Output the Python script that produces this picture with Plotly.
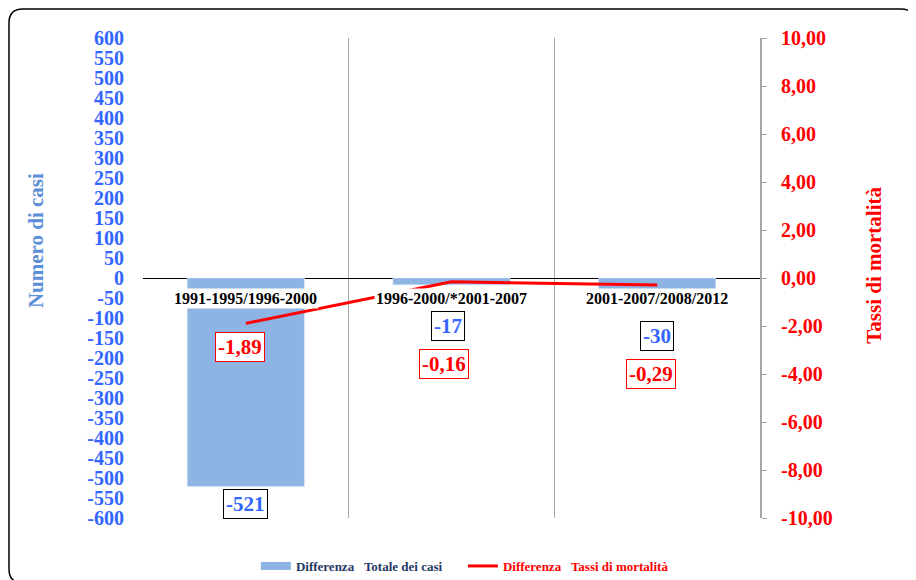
import plotly.graph_objects as go

# Dati
periodi = ["1991-1995/1996-2000", "1996-2000/*2001-2007", "2001-2007/2008/2012"]
diff_casi = [-521, -17, -30]
diff_tassi = [-1.89, -0.16, -0.29]

# tacche degli assi
tick_casi = list(range(-600, 601, 50))
tick_tassi = list(range(-10, 11, 2))
label_casi = [str(v) for v in tick_casi]
label_tassi = [f"{v:.2f}".replace(".", ",") for v in tick_tassi]

# spostamenti delle etichette dati (pixel)
shift_casi = [(0, -18), (-4, -41), (0, -46)]
shift_tassi = [(-6, -24), (-8, -82), (-6, -89)]

FONT = "Liberation Serif, Times New Roman, serif"
BLU = "#3366FF"
BLU_TITOLO = "#5B8FD8"
ROSSO = "#FF0000"
BARRA = "#8EB4E3"

x_pos = list(range(len(periodi)))

fig = go.Figure()

fig.add_trace(go.Bar(
    x=x_pos, y=diff_casi,
    marker=dict(color=BARRA),
    width=0.57,
    yaxis="y",
    showlegend=False,
))

# voce di legenda per le barre (simbolo rettangolare largo)
fig.add_trace(go.Scatter(
    x=[None], y=[None], mode="lines",
    name="<b><span style='color:#1F3864'>Differenza\u00a0\u00a0\u00a0Totale dei casi</span></b>",
    line=dict(color=BARRA, width=8),
))

fig.add_trace(go.Scatter(
    x=x_pos, y=diff_tassi,
    mode="lines",
    name="<b><span style='color:#FF0000'>Differenza\u00a0\u00a0\u00a0Tassi di mortalità</span></b>",
    line=dict(color=ROSSO, width=3),
    yaxis="y2",
))

annotations = []
# etichette categorie sulla linea dello zero
for i, p in enumerate(periodi):
    annotations.append(dict(
        x=i, y=0, xref="x", yref="y", text=f"<b>{p}</b>",
        showarrow=False, yshift=-20, bgcolor="white", borderpad=1,
        font=dict(family=FONT, size=16, color="black"),
    ))

for i, v in enumerate(diff_casi):
    dx, dy = shift_casi[i]
    annotations.append(dict(
        x=i, y=v, xref="x", yref="y", text=f"<b>{v}</b>",
        showarrow=False, xshift=dx, yshift=dy, bgcolor="white",
        bordercolor="black", borderwidth=1, borderpad=2,
        font=dict(family=FONT, size=21, color=BLU),
    ))

for i, v in enumerate(diff_tassi):
    dx, dy = shift_tassi[i]
    annotations.append(dict(
        x=i, y=v, xref="x", yref="y2", text="<b>" + f"{v:.2f}".replace(".", ",") + "</b>",
        showarrow=False, xshift=dx, yshift=dy, bgcolor="white",
        bordercolor=ROSSO, borderwidth=1, borderpad=2,
        font=dict(family=FONT, size=21, color=ROSSO),
    ))

# titoli degli assi
annotations.append(dict(
    x=-0.196, y=0.577, xref="paper", yref="paper", text="<b>Numero di casi</b>",
    textangle=-90, showarrow=False,
    font=dict(family=FONT, size=21, color=BLU_TITOLO),
))
annotations.append(dict(
    x=1.207, y=0.527, xref="paper", yref="paper", text="<b>Tassi di mortalità</b>",
    textangle=-90, showarrow=False,
    font=dict(family=FONT, size=21, color=ROSSO),
))

# cornice arrotondata attorno al grafico (coordinate paper)
bx0, bx1, by0, by1 = -0.2172, 1.2512, -0.1354, 1.0604
rx, ry = 14 / 617, 14 / 480
cornice = (f"M {bx0 + rx},{by1} L {bx1 - rx},{by1} Q {bx1},{by1} {bx1},{by1 - ry} "
           f"L {bx1},{by0 + ry} Q {bx1},{by0} {bx1 - rx},{by0} "
           f"L {bx0 + rx},{by0} Q {bx0},{by0} {bx0},{by0 + ry} "
           f"L {bx0},{by1 - ry} Q {bx0},{by1} {bx0 + rx},{by1} Z")

fig.update_layout(
    width=908, height=572,
    margin=dict(l=135, r=156, t=30, b=62, autoexpand=False),
    plot_bgcolor="white", paper_bgcolor="white",
    font=dict(family=FONT),
    showlegend=True,
    legend=dict(orientation="h", x=0.183, xanchor="left", y=-0.1, yanchor="middle",
                font=dict(family=FONT, size=13, color="black"),
                entrywidth=162, entrywidthmode="pixels", itemwidth=30),
    annotations=annotations,
    xaxis=dict(
        range=[-0.5, 2.5], tickvals=[-0.5, 0.5, 1.5, 2.5], showticklabels=False,
        showgrid=True, gridcolor="#A6A6A6", gridwidth=1, zeroline=False,
        showline=False, ticks="",
    ),
    yaxis=dict(
        range=[-600, 600], tickvals=tick_casi, ticktext=label_casi,
        showgrid=False, zeroline=True,
        zerolinecolor="black", zerolinewidth=1, showline=False, ticks="",
        ticklabelstandoff=18,
        tickfont=dict(family=FONT, size=20, color=BLU, weight="bold"),
    ),
    yaxis2=dict(
        overlaying="y", side="right", range=[-10, 10],
        tickvals=tick_tassi, ticktext=label_tassi,
        showgrid=False, zeroline=False,
        showline=True, linecolor="#A6A6A6", linewidth=2,
        ticks="outside", ticklen=5, tickcolor="#A6A6A6", tickwidth=1,
        ticklabelstandoff=10,
        tickfont=dict(family=FONT, size=20, color=ROSSO, weight="bold"),
    ),
    shapes=[dict(
        type="path", xref="paper", yref="paper", path=cornice,
        line=dict(color="black", width=1.5), layer="below",
    )],
)

fig.write_html("out.html")
